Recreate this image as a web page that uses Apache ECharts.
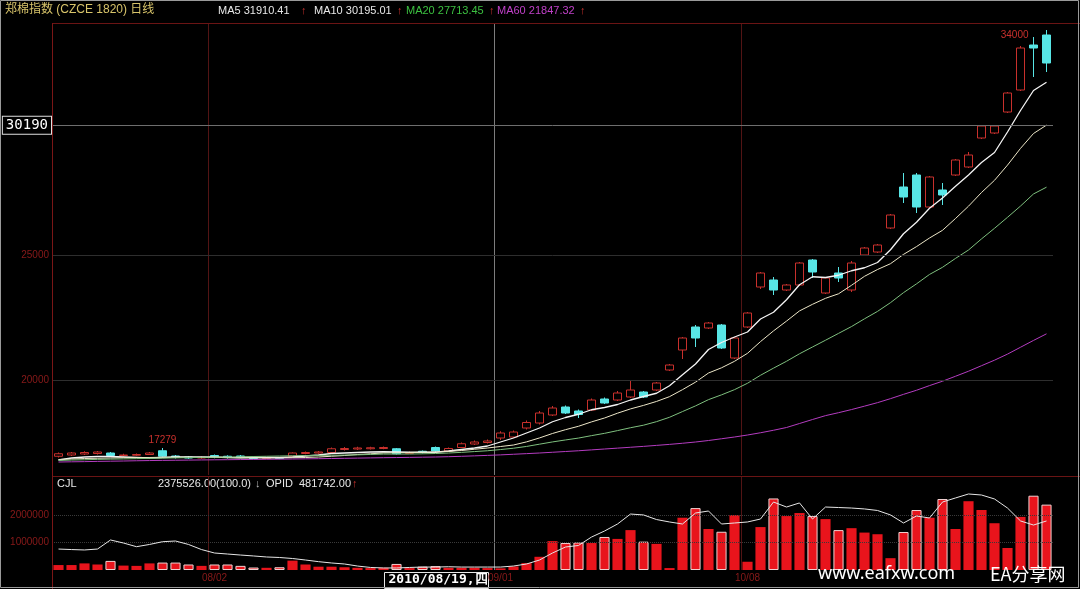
<!DOCTYPE html>
<html><head><meta charset="utf-8">
<script src="https://cdn.jsdelivr.net/npm/echarts@6/dist/echarts.min.js"></script>
<style>html,body{margin:0;padding:0;background:#000;}#c{width:1080px;height:589px;}</style>
</head><body><div id="c"></div>
<script>
// ---------- data ----------
const dates = ['07/15','07/16','07/19','07/20','07/21','07/22','07/23','07/26','07/27','07/28','07/29','07/30',
'08/02','08/03','08/04','08/05','08/06','08/09','08/10','08/11','08/12','08/13','08/16','08/17','08/18','08/19','08/20','08/23','08/24','08/25','08/26','08/27','08/30','08/31',
'09/01','09/02','09/03','09/06','09/07','09/08','09/09','09/10','09/13','09/14','09/15','09/16','09/17','09/20','09/21','09/27','09/28','09/29','09/30',
'10/08','10/11','10/12','10/13','10/14','10/15','10/18','10/19','10/20','10/21','10/22','10/25','10/26','10/27','10/28','10/29',
'11/01','11/02','11/03','11/04','11/05','11/08','11/09','11/10'];
const opens  = [16950,17000,17040,17060,17080,16980,16990,17020,17170,16960,16920,16880,16980,16950,16960,16900,16860,16890,16950,17060,17080,17100,17220,17240,17250,17260,17250,17060,17150,17300,17160,17300,17440,17500,17680,17720,18080,18280,18600,18920,18760,18800,19240,19200,19320,19520,19600,20400,21200,22120,22080,22200,20880,22120,23720,24000,23600,23800,24800,23480,24280,23600,25000,25120,26080,27720,28200,26920,27600,28200,28520,29680,29880,30720,31600,33400,33800];
const closes = [17050,17080,17100,17120,16980,17000,17020,17080,16950,16900,16880,16910,16900,16900,16910,16860,16880,16860,17080,17100,17120,17250,17260,17280,17290,17300,17050,17100,17100,17160,17260,17450,17520,17560,17880,17920,18300,18680,18880,18680,18620,19200,19080,19480,19600,19320,19880,20600,21680,21680,22280,21280,21680,22680,24280,23600,23800,24680,24320,24080,24080,24680,25280,25400,26600,27320,26920,28120,27400,28800,29000,30160,30160,31480,33280,33280,32680];
const lows   = [16900,16960,17000,17020,16950,16940,16960,17000,16920,16860,16850,16850,16870,16860,16880,16830,16830,16830,16940,17030,17050,17080,17180,17200,17220,17230,17020,17040,17060,17120,17140,17280,17400,17460,17600,17680,18020,18220,18560,18640,18480,18760,19040,19160,19280,19280,19560,20360,20840,21320,22040,21240,20840,22080,23640,23400,23560,23760,24080,23440,23920,23520,24960,25080,26040,27080,26680,26880,27000,28160,28480,29640,29840,30680,31560,32120,32320];
const highs  = [17100,17120,17150,17160,17120,17050,17060,17120,17279,17000,16960,16950,17020,16990,17000,16940,16920,16920,17100,17140,17160,17300,17320,17330,17330,17340,17280,17140,17180,17340,17300,17500,17580,17620,17950,17980,18380,18760,18960,18980,18820,19260,19300,19560,19960,19560,19920,20640,21720,22200,22320,22240,21720,22720,24320,24120,23840,24720,24840,24120,24520,24760,25320,25440,26640,28280,28280,28160,27880,28840,29120,30200,30200,31520,33360,33720,34000];
const ma5  = [16800,16880,16920,16940,16940,16920,16900,16880,16900,16920,16920,16920,16920,16900,16890,16900,16900,16900,16920,16960,17000,17060,17080,17100,17120,17130,17120,17110,17110,17110,17160,17220,17280,17360,17520,17680,17880,18080,18330,18500,18630,18810,18900,19020,19200,19340,19470,19770,20210,20640,21220,21500,21720,21920,22440,22710,23210,23810,24130,24100,24190,24370,24490,24700,25210,25850,26310,26870,27280,27750,28200,28700,29100,29920,30780,31580,31910.41];
const ma10 = [16820,16840,16860,16870,16880,16890,16900,16900,16910,16910,16910,16900,16900,16900,16890,16890,16880,16880,16890,16900,16920,16950,16980,17020,17050,17080,17090,17100,17110,17120,17140,17180,17230,17280,17340,17400,17525,17683,17861,18013,18149,18324,18480,18672,18844,18984,19142,19334,19614,19914,20280,20488,20748,21068,21536,21964,22356,22764,23028,23268,23448,23788,24148,24420,24652,25024,25336,25680,25988,26460,26952,27500,27988,28596,29264,29860,30195.01];
const ma20 = [16780,16800,16810,16825,16835,16845,16855,16865,16875,16885,16895,16905,16915,16920,16930,16940,16950,16960,16970,16978,16982,16990,16998,17006,17022,17037,17038,17039,17047,17060,17079,17106,17137,17170,17218,17271,17342,17433,17523,17602,17677,17775,17866,17976,18091,18192,18334,18509,18738,18964,19215,19406,19614,19870,20190,20474,20749,21049,21321,21591,21864,22138,22448,22744,23094,23494,23846,24222,24508,24864,25200,25644,26068,26508,26958,27442,27713.45];
const ma60 = [16720,16728,16735,16745,16752,16760,16770,16778,16785,16790,16796,16802,16808,16812,16818,16822,16828,16833,16840,16846,16852,16860,16868,16876,16884,16892,16898,16905,16912,16920,16932,16948,16966,16985,17005,17030,17055,17080,17110,17140,17170,17205,17240,17275,17310,17345,17385,17425,17470,17520,17580,17650,17720,17800,17890,17990,18100,18260,18420,18575,18692,18818,18954,19094,19254,19426,19590,19776,19951,20150,20351,20572,20793,21036,21310,21583,21847.32];
const volumes = [180000,180000,240000,200000,330000,160000,150000,240000,270000,270000,200000,150000,200000,200000,150000,90000,80000,100000,340000,200000,120000,120000,100000,80000,70000,80000,220000,70000,120000,140000,80000,80000,80000,70000,60000,130000,250000,480000,1050000,980000,1000000,980000,1200000,1130000,1450000,1030000,950000,70000,1900000,2250000,1490000,1390000,2000000,300000,1560000,2600000,1960000,2070000,1960000,1850000,1450000,1520000,1360000,1300000,430000,1380000,2180000,1900000,2580000,1490000,2500000,2180000,1700000,800000,1930000,2700000,2375526];
const opid = [206000,201000,197000,206000,295000,265000,229000,251000,278000,285000,251000,201000,167000,157000,147000,138000,128000,123000,113000,98000,82000,69000,59000,39000,25000,20000,20000,25000,29000,29000,32000,29000,29000,29000,29000,39000,59000,98000,167000,226000,241000,324000,383000,452000,550000,541000,496000,472000,452000,560000,580000,452000,462000,472000,501000,668000,619000,659000,501000,619000,614000,609000,600000,585000,541000,462000,531000,511000,668000,708000,747000,737000,698000,609000,482000,442000,481742];
const priceTicks = [20000, 25000];
const volumeTicks = [1000000, 2000000];
const monthStarts = ['08/02', '09/01', '10/08'];
const crossDate = '09/01';
const crossPrice = 30190;
const crossLabel = '2010/08/19,四';
const titleText = '郑棉指数 (CZCE 1820) 日线';
const maNames = ['MA5', 'MA10', 'MA20', 'MA60'];
const maLast = ['31910.41', '30195.01', '27713.45', '21847.32'];
const cjlText = '2375526.00(100.0)';
const opidText = 'OPID  481742.00';

// ---------- chart ----------
const RED = '#c8302c', DRED = '#8a1a1a', CYAN = '#58e6e6';
const maColors = ['#f4f4f4', '#ece6c8', '#7fc07f', '#b43cc0'];
const maTextColors = ['#e8e8e8', '#e8e8e8', '#3cc040', '#c040c8'];
const candleData = dates.map((d, i) => [opens[i], closes[i], lows[i], highs[i]]);
const volData = volumes.map((v, i) => {
  const down = closes[i] < opens[i];
  return { value: v, itemStyle: { color: '#e8141c', borderColor: down ? '#f0d0d0' : '#e8141c', borderWidth: down ? 1 : 0 } };
});
const crossIdx = dates.indexOf(crossDate);
const sepIdx = monthStarts.map(m => dates.indexOf(m)).filter(i => i !== crossIdx);
let maxI = 0; highs.forEach((h, i) => { if (h > highs[maxI]) maxI = i; });
const localI = 8;

const FONT = '"Liberation Sans", "Noto Sans CJK SC", sans-serif';
const chart = echarts.init(document.getElementById('c'), null, { renderer: 'canvas' });
const g = [];
g.push({ type: 'text', left: 5, top: 4, style: { text: titleText, fill: '#d8c46a', font: '12px ' + FONT } });
const maX = [218, 314, 406, 497];
maNames.forEach((n, k) => {
  g.push({ type: 'text', left: maX[k], top: 5, style: { text: n + ' ' + maLast[k], fill: maTextColors[k], font: '11px ' + FONT } });
  g.push({ type: 'text', left: maX[k] + 83, top: 5, style: { text: '↑', fill: RED, font: '11px ' + FONT } });
});
g.push({ type: 'text', left: 57, top: 478, style: { text: 'CJL', fill: '#e8e8e8', font: '11px ' + FONT } });
g.push({ type: 'text', left: 158, top: 478, style: { text: cjlText, fill: '#e8e8e8', font: '11px ' + FONT } });
g.push({ type: 'text', left: 255, top: 478, style: { text: '↓', fill: '#bbbbbb', font: '11px ' + FONT } });
g.push({ type: 'text', left: 266, top: 478, style: { text: opidText, fill: '#e8e8e8', font: '11px ' + FONT } });
g.push({ type: 'text', left: 352, top: 478, style: { text: '↑', fill: RED, font: '11px ' + FONT } });
// frame lines
g.push({ type: 'line', shape: { x1: 52, y1: 23.5, x2: 1080, y2: 23.5 }, style: { stroke: '#6a1414', lineWidth: 1 }, z: 10 });
g.push({ type: 'line', shape: { x1: 52, y1: 476.5, x2: 1080, y2: 476.5 }, style: { stroke: '#6a1414', lineWidth: 1 }, z: 10 });
g.push({ type: 'line', shape: { x1: 52.5, y1: 23, x2: 52.5, y2: 589 }, style: { stroke: '#7a1616', lineWidth: 1 }, z: 10 });
g.push({ type: 'rect', shape: { x: 0.5, y: 0.5, width: 1078, height: 587 }, style: { stroke: '#9a9a9a', fill: null, lineWidth: 1 }, z: 10 });
// crosshair date box
g.push({ type: 'group', left: 384, top: 572, z: 20, children: [
  { type: 'rect', shape: { x: 0, y: 0, width: 104, height: 16 }, style: { fill: '#000', stroke: '#e8e8e8', lineWidth: 1 } },
  { type: 'text', x: 4, y: 1, style: { text: crossLabel, fill: '#fff', font: 'bold 13px "DejaVu Sans Mono", monospace' } }
] });
// watermark
g.push({ type: 'text', left: 818, top: 565, z: 20, style: { text: 'www.eafxw.com', fill: '#fff', font: '18px "Noto Sans", sans-serif' } });
g.push({ type: 'text', left: 990, top: 565, z: 20, style: { text: 'EA分享网', fill: '#fff', font: '18px "Noto Sans CJK SC", sans-serif' } });

const lineSeries = [ma5, ma10, ma20, ma60].map((d, k) => ({
  type: 'line', name: maNames[k], data: d, xAxisIndex: 0, yAxisIndex: 0, showSymbol: false, symbol: 'none',
  lineStyle: { width: k === 0 ? 1.3 : 1, color: maColors[k] }, z: 3, silent: true
}));
// index 0 is included so that the (hidden) min line is the one skipped
const sepSplit = { show: true, showMinLine: false, showMaxLine: false, interval: (i) => i === 0 || sepIdx.includes(i), lineStyle: { color: '#521414', width: 1 } };
const crossSplit = { show: true, showMinLine: false, showMaxLine: false, interval: (i) => i === 0 || i === crossIdx, lineStyle: { color: '#7c7c7c', width: 1 } };
const hiddenCat = (gi) => ({ type: 'category', gridIndex: gi, data: dates, boundaryGap: true,
  axisLine: { show: false }, axisTick: { show: false }, axisLabel: { show: false }, splitLine: crossSplit });

chart.setOption({
  backgroundColor: '#000',
  animation: false,
  graphic: g,
  grid: [
    { left: 52, right: 27, top: 23, bottom: 589 - 475 },
    { left: 52, right: 27, top: 477, bottom: 19 }
  ],
  xAxis: [
    { type: 'category', gridIndex: 0, data: dates, boundaryGap: true,
      axisLine: { show: false }, axisTick: { show: false }, axisLabel: { show: false },
      splitLine: sepSplit },
    { type: 'category', gridIndex: 1, data: dates, boundaryGap: true,
      axisLine: { show: false }, axisTick: { show: false },
      axisLabel: { show: true, interval: (i) => monthStarts.includes(dates[i]), color: DRED, fontSize: 10, margin: 3, fontFamily: FONT },
      splitLine: sepSplit },
    hiddenCat(0),
    hiddenCat(1)
  ],
  yAxis: [
    { type: 'value', gridIndex: 0, min: 16200, max: 34280, axisLine: { show: false }, axisTick: { show: false },
      splitLine: { show: false },
      axisLabel: { customValues: priceTicks, color: DRED, fontSize: 10, margin: 3, fontFamily: FONT, formatter: v => String(v) } },
    { type: 'value', gridIndex: 1, min: 0, max: 3380000, axisLine: { show: false }, axisTick: { show: false },
      splitLine: { show: false },
      axisLabel: { customValues: volumeTicks, color: DRED, fontSize: 10, margin: 3, fontFamily: FONT, formatter: v => String(v) } },
    { type: 'value', gridIndex: 1, min: 0, max: 914000, show: false, splitLine: { show: false } }
  ],
  series: [
    { type: 'candlestick', name: 'K', data: candleData, xAxisIndex: 0, yAxisIndex: 0, barWidth: '72%',
      itemStyle: { color: '#000', color0: CYAN, borderColor: RED, borderColor0: CYAN, borderWidth: 1 },
      markLine: { silent: true, symbol: ['none', 'none'], animation: false,
        data: [
          { yAxis: priceTicks[0], lineStyle: { color: '#2e2e2e', type: 'solid', width: 1 }, label: { show: false } },
          { yAxis: priceTicks[1], lineStyle: { color: '#2e2e2e', type: 'solid', width: 1 }, label: { show: false } },
          { yAxis: crossPrice, lineStyle: { color: '#6e6e6e', type: 'solid', width: 1 },
            label: { show: true, position: 'start', formatter: String(crossPrice), color: '#fff', fontSize: 14,
              fontFamily: '"DejaVu Sans Mono", monospace', backgroundColor: '#000', borderColor: '#e0e0e0', borderWidth: 1, padding: [2, 3, 1, 3], distance: 1 } }
        ] },
      markPoint: { silent: true, symbol: 'circle', symbolSize: 0, animation: false,
        data: [
          { coord: [dates[maxI], highs[maxI]], value: highs[maxI], label: { show: true, position: 'left', distance: 18, offset: [0, 5], color: RED, fontSize: 10, fontFamily: FONT } },
          { coord: [dates[localI], highs[localI]], value: highs[localI], label: { show: true, position: 'top', distance: 3, color: RED, fontSize: 10, fontFamily: FONT } }
        ] } },
    ...lineSeries,
    { type: 'bar', name: 'CJL', data: volData, xAxisIndex: 1, yAxisIndex: 1, barWidth: '78%',
      markLine: { silent: true, symbol: ['none', 'none'], animation: false, label: { show: false },
        data: volumeTicks.map(v => ({ yAxis: v, lineStyle: { color: '#3a3a3a', type: 'dotted', width: 1 } })) } },
    { type: 'line', name: 'OPID', data: opid, xAxisIndex: 1, yAxisIndex: 2, showSymbol: false, symbol: 'none',
      lineStyle: { width: 1, color: '#e6e6e6' }, z: 5, silent: true }
  ]
});
</script></body></html>
